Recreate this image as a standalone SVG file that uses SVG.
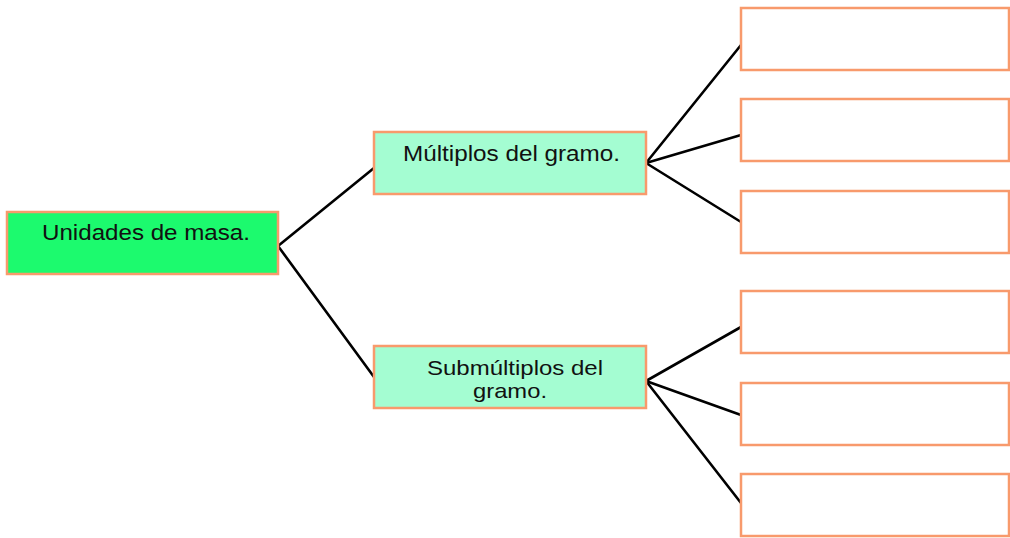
<svg xmlns="http://www.w3.org/2000/svg" width="1010" height="538" viewBox="0 0 1010 538">
  <style>
    .box { stroke: #F89A6C; stroke-width: 2.5; }
    .root { fill: #1CFA6E; }
    .mid { fill: #A4FDD2; }
    .leaf { fill: #FFFFFF; }
    .lbl { font-family: "Liberation Sans", Arial, sans-serif; font-size: 22.5px; fill: #111111; text-anchor: middle; }
    .sm { font-size: 21px; }
    .conn line { stroke: #000000; stroke-width: 2.6; stroke-linecap: round; }
  </style>
  <rect width="1010" height="538" fill="#FFFFFF"/>
  <g class="conn" id="connectors">
    <line x1="278" y1="246" x2="374" y2="168"/>
    <line x1="278" y1="246" x2="374" y2="377"/>
    <line x1="646" y1="163" x2="741" y2="45"/>
    <line x1="646" y1="163" x2="741" y2="135"/>
    <line x1="646" y1="163" x2="741" y2="222"/>
    <line x1="646" y1="381" x2="741" y2="327"/>
    <line x1="646" y1="381" x2="741" y2="415"/>
    <line x1="646" y1="381" x2="741" y2="503"/>
  </g>
  <g id="n-root">
    <rect class="box root" x="7" y="212" width="271" height="62"/>
    <text class="lbl" x="146" y="240" textLength="208" lengthAdjust="spacingAndGlyphs">Unidades de masa.</text>
  </g>
  <g id="n-multiplos">
    <rect class="box mid" x="374" y="132" width="272" height="62"/>
    <text class="lbl" x="511.5" y="161" textLength="217" lengthAdjust="spacingAndGlyphs">Múltiplos del gramo.</text>
  </g>
  <g id="n-submultiplos">
    <rect class="box mid" x="374" y="346" width="272" height="62"/>
    <text class="lbl sm" x="515" y="375" textLength="176" lengthAdjust="spacingAndGlyphs">Submúltiplos del</text>
    <text class="lbl sm" x="510" y="398" textLength="74" lengthAdjust="spacingAndGlyphs">gramo.</text>
  </g>
  <g id="n-leaf1"><rect class="box leaf" x="741" y="8" width="268" height="62"/></g>
  <g id="n-leaf2"><rect class="box leaf" x="741" y="99" width="268" height="62"/></g>
  <g id="n-leaf3"><rect class="box leaf" x="741" y="191" width="268" height="62"/></g>
  <g id="n-leaf4"><rect class="box leaf" x="741" y="291" width="268" height="62"/></g>
  <g id="n-leaf5"><rect class="box leaf" x="741" y="383" width="268" height="62"/></g>
  <g id="n-leaf6"><rect class="box leaf" x="741" y="474" width="268" height="62"/></g>
</svg>
